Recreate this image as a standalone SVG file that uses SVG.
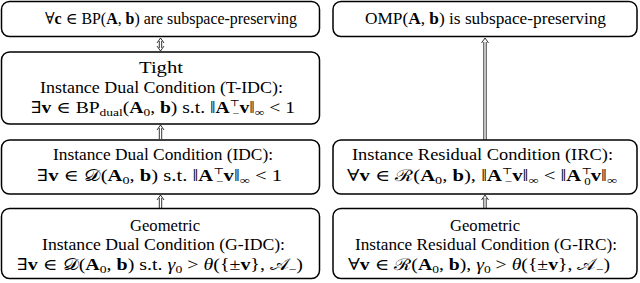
<svg xmlns="http://www.w3.org/2000/svg" width="640" height="283" viewBox="0 0 640 283">
<style>
.box{fill:#fff;stroke:#000;stroke-width:1.5}
text{font-family:"Liberation Serif","DejaVu Serif",serif;font-size:16px;fill:#000;text-anchor:middle}
.b{font-weight:bold}
.i{font-style:italic}
.s{font-size:11px}
.t{font-size:9px}
.m{font-size:10px}
.arr{fill:none;stroke:#000;stroke-width:0.8}
</style>
<rect width="640" height="283" fill="#fff"/>
<g id="connectors">
  <path class="arr" d="M159.3,41 V48 M161.7,41 V48 M157,43 L160.5,38 L164,43 M157,46 L160.5,51 L164,46"/>
  <path class="arr" d="M159.3,139 V128 M161.7,139 V128 M157,130 L160.5,125 L164,130"/>
  <path class="arr" d="M159.3,208 V198 M161.7,208 V198 M157,200 L160.5,195 L164,200"/>
  <path class="arr" d="M483.8,140 V42 M486.2,140 V42 M481.5,43 L485,38 L488.5,43"/>
  <path class="arr" d="M483.8,208 V198 M486.2,208 V198 M481.5,200 L485,195 L488.5,200"/>
</g>
<g id="bp">
  <rect class="box" x="1.5" y="1.5" width="318" height="35" rx="8"/>
  <text x="171" y="24" textLength="252" lengthAdjust="spacingAndGlyphs">∀<tspan class="b">c</tspan> ∈ BP(<tspan class="b">A</tspan>, <tspan class="b">b</tspan>) are subspace-preserving</text>
</g>
<g id="omp">
  <rect class="box" x="333" y="1.5" width="304" height="35" rx="8"/>
  <text x="485.5" y="24" textLength="241" lengthAdjust="spacingAndGlyphs">OMP(<tspan class="b">A</tspan>, <tspan class="b">b</tspan>) is subspace-preserving</text>
</g>
<g id="tidc">
  <rect class="box" x="1.5" y="52" width="318" height="72" rx="8"/>
  <text x="161" y="73" textLength="44" lengthAdjust="spacingAndGlyphs">Tight</text>
  <text x="161.5" y="93" textLength="243" lengthAdjust="spacingAndGlyphs">Instance Dual Condition (T-IDC):</text>
  <text x="163" y="113" textLength="264" lengthAdjust="spacingAndGlyphs">∃<tspan class="b">v</tspan> ∈ BP<tspan class="s" dy="3">dual</tspan><tspan dy="-3">(</tspan><tspan class="b">A</tspan><tspan class="s" dy="3">0</tspan><tspan dy="-3">, </tspan><tspan class="b">b</tspan>) s.t. ‖<tspan class="b">A</tspan><tspan class="t" dy="-7">⊤</tspan><tspan class="m" dx="-6" dy="11">−</tspan><tspan dy="-4"><tspan class="b">v</tspan>‖</tspan><tspan class="s" dy="3">∞</tspan><tspan dy="-3"> &lt; 1</tspan></text>
</g>
<g id="idc">
  <rect class="box" x="1.5" y="140" width="318" height="54" rx="8"/>
  <text x="163" y="160" textLength="220" lengthAdjust="spacingAndGlyphs">Instance Dual Condition (IDC):</text>
  <text x="159.5" y="181" textLength="245" lengthAdjust="spacingAndGlyphs">∃<tspan class="b">v</tspan> ∈ 𝒟(<tspan class="b">A</tspan><tspan class="s" dy="3">0</tspan><tspan dy="-3">, </tspan><tspan class="b">b</tspan>) s.t. ‖<tspan class="b">A</tspan><tspan class="t" dy="-7">⊤</tspan><tspan class="m" dx="-6" dy="11">−</tspan><tspan dy="-4"><tspan class="b">v</tspan>‖</tspan><tspan class="s" dy="3">∞</tspan><tspan dy="-3"> &lt; 1</tspan></text>
</g>
<g id="gidc">
  <rect class="box" x="1.5" y="208.5" width="318" height="70" rx="8"/>
  <text x="165" y="231" textLength="70" lengthAdjust="spacingAndGlyphs">Geometric</text>
  <text x="163.5" y="250" textLength="243" lengthAdjust="spacingAndGlyphs">Instance Dual Condition (G-IDC):</text>
  <text x="160" y="270" textLength="286" lengthAdjust="spacingAndGlyphs">∃<tspan class="b">v</tspan> ∈ 𝒟(<tspan class="b">A</tspan><tspan class="s" dy="3">0</tspan><tspan dy="-3">, </tspan><tspan class="b">b</tspan>) s.t.  <tspan class="i">γ</tspan><tspan class="s" dy="3">0</tspan><tspan dy="-3"> &gt; </tspan><tspan class="i">θ</tspan>({±<tspan class="b">v</tspan>}, 𝒜<tspan class="s" dy="3">−</tspan><tspan dy="-3">)</tspan></text>
</g>
<g id="irc">
  <rect class="box" x="333" y="140" width="304" height="54" rx="8"/>
  <text x="482.5" y="160" textLength="261" lengthAdjust="spacingAndGlyphs">Instance Residual Condition (IRC):</text>
  <text x="482" y="181" textLength="270" lengthAdjust="spacingAndGlyphs">∀<tspan class="b">v</tspan> ∈ ℛ(<tspan class="b">A</tspan><tspan class="s" dy="3">0</tspan><tspan dy="-3">, </tspan><tspan class="b">b</tspan>), ‖<tspan class="b">A</tspan><tspan class="t" dy="-7">⊤</tspan><tspan class="m" dx="-6" dy="11">−</tspan><tspan dy="-4"><tspan class="b">v</tspan>‖</tspan><tspan class="s" dy="3">∞</tspan><tspan dy="-3"> &lt; ‖</tspan><tspan class="b">A</tspan><tspan class="t" dy="-7">⊤</tspan><tspan class="m" dx="-6" dy="11">0</tspan><tspan dy="-4"><tspan class="b">v</tspan>‖</tspan><tspan class="s" dy="3">∞</tspan></text>
</g>
<g id="girc">
  <rect class="box" x="333" y="208.5" width="304" height="70" rx="8"/>
  <text x="485" y="231" textLength="70" lengthAdjust="spacingAndGlyphs">Geometric</text>
  <text x="486" y="250" textLength="262" lengthAdjust="spacingAndGlyphs">Instance Residual Condition (G-IRC):</text>
  <text x="479" y="270" textLength="262" lengthAdjust="spacingAndGlyphs">∀<tspan class="b">v</tspan> ∈ ℛ(<tspan class="b">A</tspan><tspan class="s" dy="3">0</tspan><tspan dy="-3">, </tspan><tspan class="b">b</tspan>), <tspan class="i">γ</tspan><tspan class="s" dy="3">0</tspan><tspan dy="-3"> &gt; </tspan><tspan class="i">θ</tspan>({±<tspan class="b">v</tspan>}, 𝒜<tspan class="s" dy="3">−</tspan><tspan dy="-3">)</tspan></text>
</g>
</svg>
